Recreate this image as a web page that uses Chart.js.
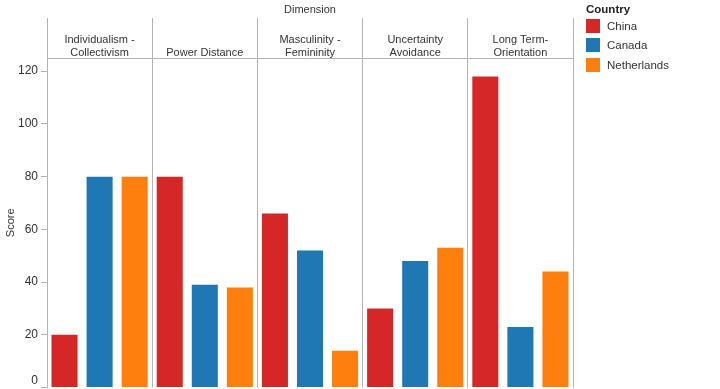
<!DOCTYPE html>
<html>
<head>
<meta charset="utf-8">
<script src="https://cdn.jsdelivr.net/npm/chart.js@4/dist/chart.umd.min.js"></script>
<style>
  html, body { margin: 0; padding: 0; background: #fff; overflow: hidden; }
  #wrap { position: relative; width: 720px; height: 389px; overflow: hidden; }
  #legend { position: absolute; left: 586px; top: 2px; font-family: "Liberation Sans", Arial, sans-serif; color: #333; }
  #legend .title { font-weight: bold; font-size: 11.5px; line-height: 14px; color: #222; }
  #legend .item { display: flex; align-items: center; height: 19.5px; font-size: 11.5px; }
  #legend .sw { width: 14px; height: 14px; margin-right: 7px; }
</style>
</head>
<body>
<div id="wrap">
  <canvas id="myChart" width="720" height="405"></canvas>
  <div id="legend"></div>
</div>
<script>
// Hofstede scores per dimension
const dimensions = [
    ['Individualism -', 'Collectivism'],
    'Power Distance',
    ['Masculinity -', 'Femininity'],
    ['Uncertainty', 'Avoidance'],
    ['Long Term-', 'Orientation']
];
const countries = ['China', 'Canada', 'Netherlands'];
const colors = ['#d62728', '#1f77b4', '#ff7f0e'];

const china = [20, 80, 66, 30, 118];
const canada = [80, 39, 52, 48, 23];
const netherlands = [80, 38, 14, 53, 44];

const yTicks = [0, 20, 40, 60, 80, 100, 120];

const series = [china, canada, netherlands];

const data = {
    labels: dimensions,
    datasets: countries.map((name, i) => ({
        label: name,
        data: series[i],
        backgroundColor: colors[i],
        categoryPercentage: 1.0,
        barPercentage: 0.743
    }))
};

const font = { family: '"Liberation Sans", Arial, sans-serif', size: 11 };

const config = {
    type: 'bar',
    data: data,
    options: {
        responsive: false,
        animation: false,
        layout: { padding: { left: 0, right: 147, top: 0, bottom: 0 } },
        plugins: { legend: { display: false }, tooltip: { enabled: false } },
        scales: {
            x: {
                position: 'top',
                offset: true,
                grid: { offset: true, color: '#b4b4b4', tickLength: 40, drawOnChartArea: true },
                border: { color: '#b4b4b4' },
                ticks: { color: '#333', font: font, padding: -42, maxRotation: 0, autoSkip: false },
                title: { display: true, text: 'Dimension', color: '#333', font: font, padding: { top: 3, bottom: 0 } },
                afterFit: scale => { scale.height = 58; }
            },
            y: {
                min: 0,
                max: 125,
                afterBuildTicks: scale => { scale.ticks = yTicks.map(v => ({ value: v })); },
                grid: { display: true, drawOnChartArea: false, tickLength: 6, color: '#b4b4b4' },
                border: { color: '#b4b4b4' },
                ticks: {
                    color: '#333',
                    font: { family: font.family, size: 12 },
                    padding: 3,
                    // lift the 0 label a bit so it stays visible at the bottom edge
                    callback: v => v === 0 ? ['0', ''] : v
                },
                title: { display: true, text: 'Score', color: '#333', font: font },
                afterFit: scale => { scale.width = 47; }
            }
        }
    }
};

const chart = new Chart(document.getElementById('myChart'), config);

// legend on the right
const legend = document.getElementById('legend');
legend.innerHTML = '<div class="title">Country</div>' + countries.map((c, i) =>
    `<div class="item"><span class="sw" style="background:${colors[i]}"></span>${c}</div>`).join('');
</script>
</body>
</html>
